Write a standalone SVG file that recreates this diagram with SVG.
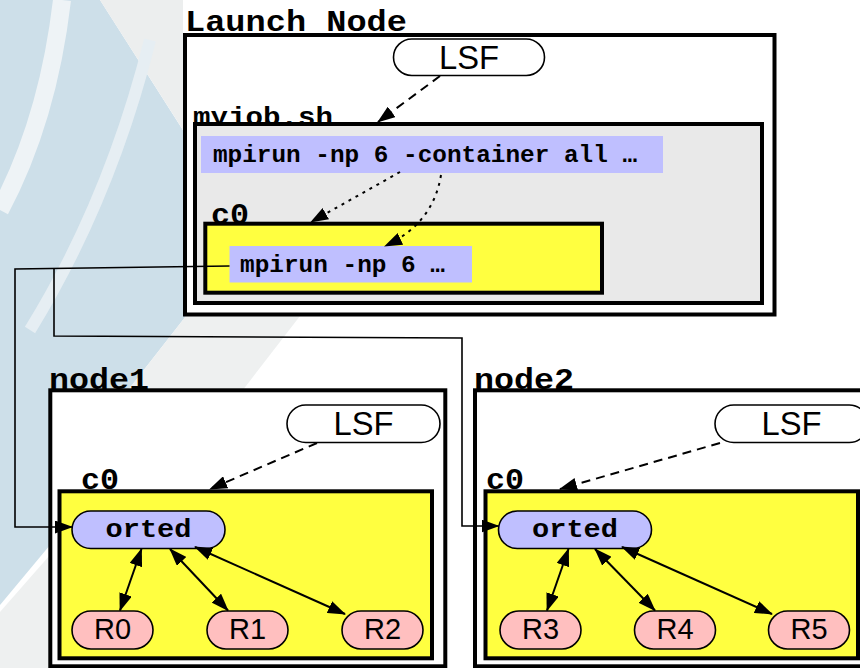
<svg xmlns="http://www.w3.org/2000/svg" width="860" height="668" viewBox="0 0 860 668">
<defs>
<style>
.box{stroke:#000;stroke-width:4}
.lbl{font-family:"Courier New","Liberation Mono",monospace;font-weight:bold;fill:#000}
.sans{font-family:"Liberation Sans",Arial,sans-serif;fill:#000;text-anchor:middle}
.pill{stroke:#000;stroke-width:1.6}
.cmd{fill:#bfbfff}
.yel{fill:#ffff40}
.dash{stroke:#000;stroke-width:2;fill:none;stroke-dasharray:9,6}
.dot{stroke:#000;stroke-width:2;fill:none;stroke-dasharray:3,5}
.wire{stroke:#000;stroke-width:1.6;fill:none}
.dbl{stroke:#000;stroke-width:2;fill:none}
</style>
<marker id="ah" viewBox="0 0 18 13" refX="17" refY="6.5" markerUnits="userSpaceOnUse" markerWidth="18" markerHeight="13" orient="auto-start-reverse">
<path d="M0,0 L18,6.5 L0,13 Z" fill="#000"/>
</marker>
</defs>

<g id="background">
<rect width="860" height="668" fill="#ffffff"/>
<path d="M0,0 L100,0 L186,135 L186,316 L50,490 L50,545 L0,605 Z" fill="#cddfe9"/>
<path d="M100,0 L183,0 L183,130 Z" fill="#eceeee"/>
<path d="M186,316 L300,316 L50,640 L50,490 Z" fill="#eef0f0"/>
<path d="M0,612 L50,555 L50,668 L0,668 Z" fill="#eef0f0"/>
<path d="M62,0 Q48,120 0,210" stroke="#eef3f6" stroke-width="18" fill="none"/>
<path d="M150,40 Q110,200 30,330" stroke="#e6eef3" stroke-width="12" fill="none"/>
</g>

<g id="launch-node">
<text class="lbl" x="185" y="31" font-size="30" textLength="222" lengthAdjust="spacingAndGlyphs">Launch Node</text>
<rect class="box" x="185" y="35" width="589.5" height="279.5" fill="#ffffff"/>
</g>

<g id="lsf-launch">
<rect class="pill" x="393.5" y="39" width="151" height="36.5" rx="18.25" fill="#ffffff"/>
<text class="sans" x="469" y="68.5" font-size="34" textLength="60" lengthAdjust="spacingAndGlyphs">LSF</text>
</g>

<g id="myjob">
<text class="lbl" x="193" y="125" font-size="26" textLength="140" lengthAdjust="spacingAndGlyphs">myjob.sh</text>
<rect class="box" x="195" y="124" width="567" height="179" fill="#e9e9e9"/>
</g>

<g id="cmd-container">
<rect class="cmd" x="201" y="136" width="462" height="37"/>
<text class="lbl" x="213" y="162" font-size="23" textLength="424" lengthAdjust="spacingAndGlyphs">mpirun -np 6 -container all …</text>
</g>

<g id="launch-c0">
<text class="lbl" x="211" y="224" font-size="30" textLength="38" lengthAdjust="spacingAndGlyphs">c0</text>
<rect class="box yel" x="205.3" y="223.7" width="396.7" height="69"/>
</g>

<g id="cmd-np6">
<rect class="cmd" x="229.5" y="246" width="242.5" height="36.5"/>
<text class="lbl" x="240" y="272" font-size="23" textLength="205" lengthAdjust="spacingAndGlyphs">mpirun -np 6 …</text>
</g>

<g id="node1">
<text class="lbl" x="49" y="389" font-size="30" textLength="100" lengthAdjust="spacingAndGlyphs">node1</text>
<rect class="box" x="50.3" y="390.3" width="395" height="276" fill="#ffffff"/>
</g>

<g id="node2">
<text class="lbl" x="474" y="389" font-size="30" textLength="100" lengthAdjust="spacingAndGlyphs">node2</text>
<rect class="box" x="475" y="390.3" width="400" height="276" fill="#ffffff"/>
</g>

<g id="lsf-node1">
<rect class="pill" x="287" y="405" width="153" height="37.5" rx="18.75" fill="#ffffff"/>
<text class="sans" x="363.5" y="435" font-size="34" textLength="60" lengthAdjust="spacingAndGlyphs">LSF</text>
</g>

<g id="lsf-node2">
<rect class="pill" x="715" y="405" width="153" height="37.5" rx="18.75" fill="#ffffff"/>
<text class="sans" x="791.5" y="435" font-size="34" textLength="60" lengthAdjust="spacingAndGlyphs">LSF</text>
</g>

<g id="node1-c0">
<text class="lbl" x="81" y="489" font-size="30" textLength="38" lengthAdjust="spacingAndGlyphs">c0</text>
<rect class="box yel" x="59.5" y="491.3" width="372.5" height="167"/>
</g>

<g id="node2-c0">
<text class="lbl" x="486" y="489" font-size="30" textLength="38" lengthAdjust="spacingAndGlyphs">c0</text>
<rect class="box yel" x="485.5" y="491.3" width="372.5" height="167"/>
</g>

<g id="orted1">
<rect class="pill cmd" x="72" y="511" width="153" height="37.5" rx="18.75"/>
<text class="lbl" x="148.5" y="536.5" font-size="26" text-anchor="middle" textLength="86" lengthAdjust="spacingAndGlyphs">orted</text>
</g>
<g id="orted2">
<rect class="pill cmd" x="498.5" y="511" width="153" height="37.5" rx="18.75"/>
<text class="lbl" x="575" y="536.5" font-size="26" text-anchor="middle" textLength="86" lengthAdjust="spacingAndGlyphs">orted</text>
</g>

<g id="R0"><rect class="pill" x="72" y="611" width="81" height="38" rx="19" fill="#ffbfbf"/><text class="sans" x="112.5" y="639" font-size="29">R0</text></g>
<g id="R1"><rect class="pill" x="207" y="611" width="81" height="38" rx="19" fill="#ffbfbf"/><text class="sans" x="247.5" y="639" font-size="29">R1</text></g>
<g id="R2"><rect class="pill" x="342" y="611" width="81" height="38" rx="19" fill="#ffbfbf"/><text class="sans" x="382.5" y="639" font-size="29">R2</text></g>
<g id="R3"><rect class="pill" x="500" y="611" width="81" height="38" rx="19" fill="#ffbfbf"/><text class="sans" x="540.5" y="639" font-size="29">R3</text></g>
<g id="R4"><rect class="pill" x="634.5" y="611" width="81" height="38" rx="19" fill="#ffbfbf"/><text class="sans" x="675" y="639" font-size="29">R4</text></g>
<g id="R5"><rect class="pill" x="768.5" y="611" width="81" height="38" rx="19" fill="#ffbfbf"/><text class="sans" x="809" y="639" font-size="29">R5</text></g>

<g id="connectors">
<path class="dash" d="M440,76 L378,122" marker-end="url(#ah)"/>
<path class="dot" d="M400,172 L311,222" marker-end="url(#ah)"/>
<path class="dot" d="M441,175 Q433,224 385,246" marker-end="url(#ah)"/>
<path class="wire" d="M229.5,266 L15,269 L15,527 L72,527" marker-end="url(#ah)"/>
<path class="wire" d="M54,268 L54,336 L462,338 L462,526 L498.5,526" marker-end="url(#ah)"/>
<path class="dash" d="M317,443 L210,489" marker-end="url(#ah)"/>
<path class="dash" d="M720,443 L560,489" marker-end="url(#ah)"/>
<path class="dbl" d="M141.5,549 L120,610.5" marker-start="url(#ah)" marker-end="url(#ah)"/>
<path class="dbl" d="M170,549 L228,610.5" marker-start="url(#ah)" marker-end="url(#ah)"/>
<path class="dbl" d="M195,547 L345,614" marker-start="url(#ah)" marker-end="url(#ah)"/>
<path class="dbl" d="M568.5,549 L547,610.5" marker-start="url(#ah)" marker-end="url(#ah)"/>
<path class="dbl" d="M595,549 L655,610.5" marker-start="url(#ah)" marker-end="url(#ah)"/>
<path class="dbl" d="M622,547 L772,614" marker-start="url(#ah)" marker-end="url(#ah)"/>
</g>
</svg>
